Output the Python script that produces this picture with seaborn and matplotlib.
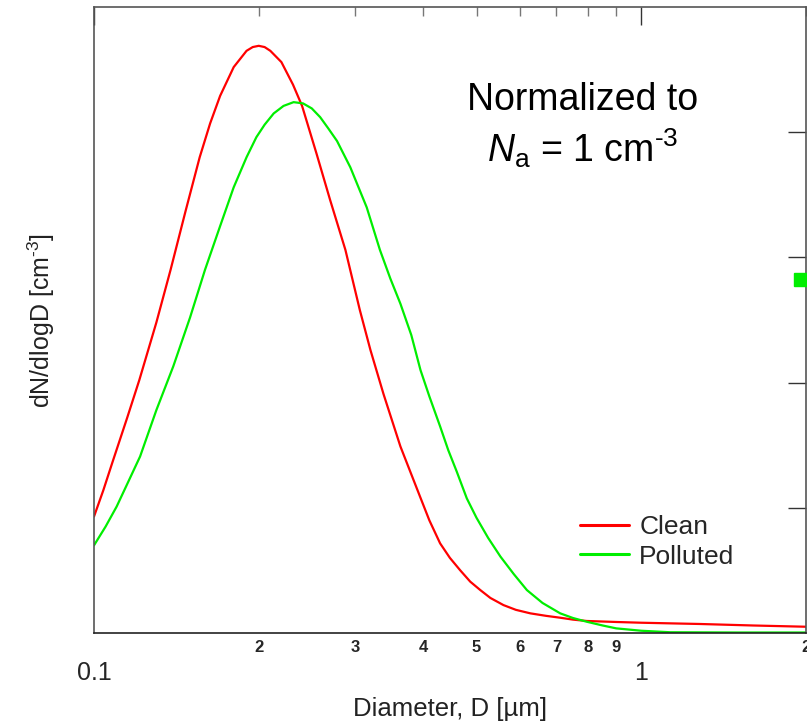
import matplotlib
matplotlib.use("Agg")
import matplotlib.pyplot as plt
from matplotlib.patches import Rectangle
from matplotlib.ticker import FixedLocator, FixedFormatter, NullFormatter
import seaborn as sns
import pandas as pd

# values (diameter in um, dN/dlogD normalized)
clean_d = [0.1, 0.104, 0.108, 0.115, 0.121, 0.13, 0.138, 0.147, 0.156, 0.163, 0.17,
           0.18, 0.19, 0.195, 0.2, 0.205, 0.21, 0.22, 0.231, 0.24, 0.255, 0.27,
           0.288, 0.306, 0.32, 0.338, 0.363, 0.395, 0.41, 0.429, 0.447, 0.467,
           0.487, 0.508, 0.53, 0.56, 0.59, 0.627, 0.67, 0.711, 0.75, 0.795, 0.9,
           1.0, 1.28, 1.6, 2.0]
clean_n = [0.93, 1.14, 1.36, 1.72, 2.02, 2.48, 2.90, 3.37, 3.80, 4.07, 4.29,
           4.52, 4.65, 4.68, 4.69, 4.68, 4.65, 4.56, 4.38, 4.21, 3.83, 3.46,
           3.06, 2.58, 2.26, 1.91, 1.49, 1.08, 0.90, 0.716, 0.60, 0.50,
           0.41, 0.343, 0.28, 0.223, 0.185, 0.157, 0.137, 0.122, 0.107, 0.096, 0.088,
           0.082, 0.072, 0.06, 0.05]

polluted_d = [0.1, 0.105, 0.11, 0.115, 0.1214, 0.13, 0.1396, 0.1498, 0.1595, 0.17,
              0.18, 0.19, 0.198, 0.205, 0.213, 0.222, 0.2316, 0.241, 0.25, 0.259,
              0.268, 0.278, 0.294, 0.315, 0.333, 0.348, 0.363, 0.38, 0.395, 0.41,
              0.429, 0.444, 0.46, 0.48, 0.5, 0.525, 0.553, 0.585, 0.618, 0.66,
              0.711, 0.75, 0.795, 0.85, 0.9, 1.0, 1.13, 1.5, 2.0]
polluted_n = [0.70, 0.85, 1.01, 1.19, 1.41, 1.78, 2.13, 2.52, 2.90, 3.25,
              3.56, 3.80, 3.96, 4.06, 4.15, 4.21, 4.24, 4.23, 4.19, 4.12,
              4.03, 3.93, 3.72, 3.40, 3.06, 2.83, 2.63, 2.38, 2.10, 1.89,
              1.65, 1.46, 1.29, 1.075, 0.92, 0.76, 0.61, 0.47, 0.343, 0.24,
              0.157, 0.12, 0.09, 0.06, 0.037, 0.018, 0.006, 0.004, 0.004]

major_ticks = [0.1, 1.0]
major_labels = ["0.1", "1"]
minor_ticks = [0.2, 0.3, 0.4, 0.5, 0.6, 0.7, 0.8, 0.9, 2.0]
minor_labels = ["2", "3", "4", "5", "6", "7", "8", "9", "2"]
y_ticks = [1, 2, 3, 4]

df = pd.concat([
    pd.DataFrame({"D": clean_d, "N": clean_n, "Sample": "Clean"}),
    pd.DataFrame({"D": polluted_d, "N": polluted_n, "Sample": "Polluted"}),
])

sns.set_theme(style="white")
plt.rcParams["font.family"] = ["Liberation Sans", "DejaVu Sans"]
plt.rcParams["mathtext.fontset"] = "custom"
plt.rcParams["mathtext.rm"] = "Liberation Sans"
plt.rcParams["mathtext.it"] = "Liberation Sans:italic"

fig = plt.figure(figsize=(8.07, 7.23), dpi=100)
ax = fig.add_axes([94 / 807, 1 - 633 / 723, 712 / 807, 626 / 723])

sns.lineplot(data=df, x="D", y="N", hue="Sample", estimator=None,
             palette={"Clean": "#ff0000", "Polluted": "#00ee00"},
             linewidth=1.6, ax=ax)

ax.set_xscale("log")
ax.set_xlim(0.1, 2.0)
ax.set_ylim(0, 5)

ax.xaxis.set_major_locator(FixedLocator(major_ticks))
ax.xaxis.set_major_formatter(FixedFormatter(major_labels))
ax.xaxis.set_minor_locator(FixedLocator(minor_ticks))
ax.xaxis.set_minor_formatter(FixedFormatter(minor_labels))
ax.yaxis.set_major_locator(FixedLocator(y_ticks))
ax.yaxis.set_major_formatter(NullFormatter())

ax.tick_params(which="both", direction="in", top=True, right=True, color="#333333")
ax.tick_params(which="major", length=13, width=1.0)
ax.tick_params(which="minor", length=6.5, width=1.0, color="#777777")
ax.tick_params(axis="x", which="major", pad=20, labelsize=18)
ax.tick_params(axis="x", which="minor", pad=5, labelsize=12)
for lbl in ax.xaxis.get_minorticklabels():
    lbl.set_fontweight("bold")

for sp in ax.spines.values():
    sp.set_color("#555555")
    sp.set_linewidth(1.2)
ax.spines["bottom"].set_color("#222222")

ax.set_xlabel("Diameter, D [µm]", fontsize=18.5, color="#222222")
ax.xaxis.set_label_coords(0.5, -0.102)
ax.set_ylabel("dN/dlogD [cm$^{\\text{-3}}$]", fontsize=18, color="#222222", labelpad=23)

ax.text(0.686, 0.81, "Normalized to\n$N_\\mathrm{a}$ = 1 cm$^{\\text{-3}}$",
        transform=ax.transAxes, ha="center", va="center", fontsize=27,
        linespacing=1.25, color="black")

leg = ax.legend(loc="upper left", bbox_to_anchor=(0.683, 0.188), frameon=False,
                fontsize=19, handlelength=1.85, handletextpad=0.38,
                labelspacing=0.2, borderpad=0, borderaxespad=0)
for line in leg.get_lines():
    line.set_linewidth(2.2)

# small green marker stub visible at the right edge of the original
fig.patches.append(Rectangle((794 / 807, 1 - 286 / 723), 13 / 807, 13 / 723,
                             transform=fig.transFigure, color="#00ee00"))

fig.savefig("out.png", dpi=100)
